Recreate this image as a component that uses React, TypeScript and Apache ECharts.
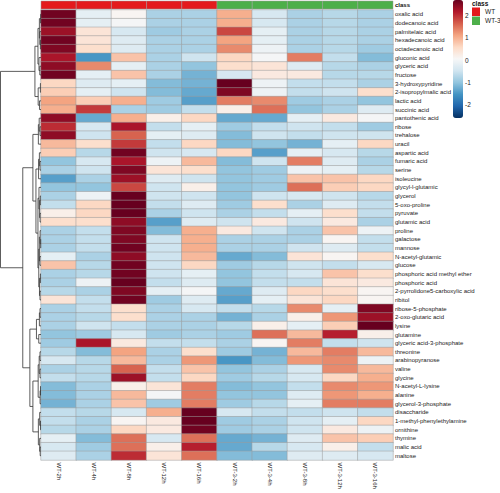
import React, { useEffect, useRef } from "react";
import * as echarts from "echarts";

const columns = ["WT-2h", "WT-4h", "WT-8h", "WT-12h", "WT-16h", "WT-3-2h", "WT-3-4h", "WT-3-8h", "WT-3-12h", "WT-3-16h"];
const columnClass = ["WT", "WT", "WT", "WT", "WT", "WT-3", "WT-3", "WT-3", "WT-3", "WT-3"];
const classNames = ["WT", "WT-3"];
const classColors = ["#E41A1C", "#4DAF4A"];

const rows = [
  "oxalic acid", "dodecanoic acid", "palmitelaic acid", "hexadecanoic acid", "octadecanoic acid",
  "gluconic acid", "glyceric acid", "fructose", "3-hydroxypyridine", "2-isopropylmalic acid",
  "lactic acid", "succinic acid", "pantothenic acid", "ribose", "trehalose", "uracil",
  "aspartic acid", "fumaric acid", "serine", "isoleucine", "glycyl-l-glutamic", "glycerol",
  "5-oxo-proline", "pyruvate", "glutamic acid", "proline", "galactose", "mannose",
  "N-acetyl-glutamic", "glucose", "phosphoric acid methyl ether", "phosphoric acid",
  "2-pyrrolidone5-carboxylic acid", "ribitol", "ribose-5-phosphate", "2-oxo-glutaric acid",
  "lysine", "glutamine", "glyceric acid-3-phosphate", "threonine", "arabinopyranose", "valine",
  "glycine", "N-acetyl-L-lysine", "alanine", "glycerol-3-phosphate", "disaccharide",
  "1-methyl-phenylethylamine", "ornithine", "thymine", "malic acid", "maltose",
];

const values: number[][] = [
  [2.6, -0.2, 0.1, -0.8, -0.8, 1.0, -0.4, -0.8, -0.7, -0.8],
  [2.6, -0.2, 0.0, -0.8, -0.8, 1.0, -0.4, -0.8, -0.7, -0.8],
  [2.3, 0.4, -0.4, -0.9, -0.8, 1.8, -0.2, -0.8, -0.7, -0.8],
  [2.6, 0.4, -0.3, -0.8, -0.8, 1.1, -0.2, -0.8, -0.7, -0.8],
  [2.5, 0.5, -0.3, -0.8, -0.8, 1.3, -0.1, -0.8, -0.7, -0.9],
  [2.2, -1.5, 0.8, -0.8, -0.5, 0.6, 0.0, 1.4, -0.6, -1.1],
  [2.4, 1.3, -0.2, -0.8, -1.0, 0.5, 0.4, -0.3, -0.7, -0.8],
  [2.6, -0.2, 0.8, -0.8, -1.2, -0.4, 0.3, 0.3, -0.7, -0.7],
  [0.6, -0.3, -0.2, -1.1, -1.2, 2.7, -0.1, -0.6, -0.6, -0.8],
  [0.7, -0.2, -0.5, -1.1, -1.3, 2.5, -0.1, -0.6, -0.5, 0.5],
  [1.1, 0.7, 1.0, -0.9, -1.4, 1.4, 1.3, -0.9, -0.8, -1.0],
  [1.0, 1.9, -0.8, -0.9, -0.6, 0.2, 1.5, -1.0, -0.8, -0.3],
  [2.4, -1.3, 1.0, 0.2, 0.6, -1.3, -1.3, -0.2, 0.3, 0.0],
  [2.0, -0.4, 2.2, -0.6, -0.2, -0.9, -0.6, -0.5, -0.6, -0.9],
  [2.4, -0.5, 1.6, -0.2, -0.3, -1.1, -0.5, -0.6, -0.5, -0.5],
  [0.9, 0.5, 1.9, -0.6, 0.6, -1.1, -1.0, -1.2, -0.2, 0.6],
  [0.7, -0.7, 2.6, -0.5, -0.4, 0.6, -1.4, -0.2, -0.4, -0.7],
  [-1.0, -0.4, 2.2, -0.1, 0.9, -1.1, -0.5, 1.4, -0.3, -0.8],
  [-0.8, -0.5, 2.5, 0.4, 0.5, -1.0, -0.9, -0.1, -0.2, -0.7],
  [-1.4, -0.8, 2.3, -0.3, -0.5, -1.0, -0.9, 0.8, 0.8, 0.6],
  [-1.0, -1.0, 1.8, -0.5, 0.2, -1.0, -0.9, 1.5, 0.7, 0.6],
  [-0.8, -0.1, 2.7, -0.5, -0.5, -1.0, -0.5, -0.4, -0.5, -0.7],
  [-0.6, 0.6, 2.7, -0.6, -0.3, -0.9, 0.5, -0.8, -0.3, -0.6],
  [0.2, 0.6, 2.7, -0.8, -0.5, -0.8, -0.6, -0.2, 0.5, -0.6],
  [0.5, 0.5, 2.4, -1.4, -0.3, -0.5, 0.3, -0.5, 0.3, -0.8],
  [-0.8, -0.6, 2.5, -1.1, 1.0, 0.3, -0.5, -0.8, 0.8, -0.1],
  [-0.8, -0.6, 2.5, -0.5, 1.0, -0.8, -0.8, -0.8, 0.1, -0.6],
  [-0.8, -0.6, 2.6, -0.5, 1.0, -0.8, -0.8, -0.5, -0.3, -0.6],
  [-0.2, -0.8, 2.4, -0.5, 0.9, -1.3, -1.1, 0.4, 0.1, 0.5],
  [0.8, -0.7, 2.6, -0.5, 0.6, -0.9, -0.7, -0.5, -0.6, -0.4],
  [-0.8, -0.7, 2.6, -0.5, -0.2, -1.0, -0.6, -0.4, 0.8, 0.5],
  [-0.8, -0.1, 2.7, -0.6, -0.3, -1.0, -0.6, -0.6, 0.4, 0.3],
  [-0.7, -0.8, 2.5, -0.2, 0.0, -1.3, -0.3, 0.6, 0.5, 0.1],
  [0.4, -0.6, 2.6, -0.9, -0.3, -1.4, -0.2, 0.4, 0.6, 0.1],
  [-0.8, -0.6, 0.5, -0.8, -0.4, -0.6, -0.7, 1.3, -0.2, 2.5],
  [-0.8, -0.7, 0.5, -0.8, -0.8, -1.2, -0.8, 0.2, 1.2, 2.3],
  [-0.8, -0.5, -0.6, -0.8, -0.8, -0.7, 0.2, -0.2, 0.7, 2.8],
  [-1.0, -0.9, -0.4, -0.9, -0.8, -0.9, 1.5, 0.9, 2.1, 0.2],
  [-0.9, 2.2, 0.3, -0.6, -0.6, -0.8, 0.1, 1.4, -0.6, -0.5],
  [-0.7, -1.1, 1.1, -0.8, 0.5, -0.9, -1.2, 0.9, 1.4, 0.9],
  [-0.4, -0.7, 0.9, -0.8, 1.2, -1.5, -1.1, 1.2, 1.3, -0.1],
  [-0.8, -0.7, 1.6, -0.6, 0.8, -1.0, -0.8, -0.4, 1.3, 0.9],
  [-0.6, -0.7, 2.3, -0.6, 0.6, -0.9, -0.7, -0.4, 0.6, 1.0],
  [-1.1, -0.8, 0.2, 0.4, 1.4, -1.1, -1.0, -0.6, 1.3, 1.2],
  [-1.1, -0.8, 0.9, 0.0, 1.4, -1.0, -1.0, -0.3, 1.2, 1.0],
  [-1.2, -0.8, 0.8, -0.9, 1.4, -0.9, -0.7, -0.2, 1.4, 1.4],
  [-0.6, -0.7, -0.4, 1.0, 2.8, -0.4, -0.6, -0.6, -0.5, -0.6],
  [-0.6, -0.8, 0.1, 0.3, 2.7, -0.9, -0.8, -0.5, -0.2, 0.6],
  [-0.7, -0.8, 0.6, 0.3, 2.6, -0.9, -0.8, -0.5, 0.3, -0.1],
  [-0.2, -1.1, 1.5, -0.4, 1.5, -1.3, -1.2, -0.3, 0.8, 0.7],
  [-0.4, -0.9, 1.5, 0.2, 2.1, -1.3, -0.7, -0.4, 0.2, -0.6],
  [-0.3, -0.8, 2.0, 0.4, 1.5, -1.1, -1.1, -0.3, -0.3, -0.4],
];

// Row dendrogram: [height, left, right]; leaves are row indices
type Node = number | [number, Node, Node];
const rowTree: Node = [40,
  [6,
    [3.0,
      [1.6, [0.4, 0, 1], [1.2, 2, [0.6, 3, 4]]],
      [2.0, 5, [1.2, 6, 7]]],
    [2.8, [0.6, 8, 9], [1.5, 10, 11]]],
  [18,
    [8,
      [2.6, [1.8, 12, [1.0, 13, 14]], 15],
      [5.0,
        [2.4, [1.6, 16, [1.0, 17, 18]], 19],
        [3.0,
          [2.0, 20, [1.4, [0.7, 21, 22], [0.9, 23, 24]]],
          [2.2,
            [1.6, [0.9, 25, [0.3, 26, 27]], [1.1, 28, 29]],
            [1.5, [0.6, 30, 31], [1.0, 32, 33]]]]]],
    [11,
      [4.5, [1.6, [1.0, 34, 35], 36], [2.2, 37, 38]],
      [8,
        [2.8, [1.8, [1.0, 39, 40], [1.0, 41, 42]], [0.9, [0.5, 43, 44], 45]],
        [2.6, [1.3, 46, [0.5, 47, 48]], [1.3, 49, [0.8, 50, 51]]]]]]];

const colorScale = ["#053061", "#2166AC", "#4393C3", "#92C5DE", "#D1E5F0", "#F7F7F7", "#FDDBC7", "#F4A582", "#D6604D", "#B2182B", "#67001F"];
const scaleMin = -2.58;
const scaleMax = 2.67;
const scaleTicks = [-2, -1, 0, 1, 2];

const HM_LEFT = 41;
const HM_TOP = 10;
const HM_W = 352;
const HM_H = 450;
const FONT = "Liberation Sans, Arial, sans-serif";

function buildSegments(node: Node, out: number[][]): { pos: number; h: number } {
  if (typeof node === "number") return { pos: node, h: 0 };
  const [h, l, r] = node;
  const a = buildSegments(l, out);
  const b = buildSegments(r, out);
  out.push([h, a.pos, b.pos, a.h, b.h]);
  return { pos: (a.pos + b.pos) / 2, h };
}

export default function App() {
  const ref = useRef<HTMLDivElement>(null);
  useEffect(() => {
    if (!ref.current) return;
    const chart = echarts.init(ref.current, undefined, { renderer: "svg" });
    const segs: number[][] = [];
    buildSegments(rowTree, segs);
    const heatData: number[][] = [];
    values.forEach((row, ri) => row.forEach((v, ci) => heatData.push([ci, ri, v])));

    const classSeries = classNames.map((cn, k) => ({
      type: "custom",
      name: cn,
      xAxisIndex: 1,
      yAxisIndex: 1,
      itemStyle: { color: classColors[k] },
      data: columnClass.map((c, i) => (c === cn ? [i, 0] : null)).filter((d) => d !== null),
      renderItem: (params: any, api: any) => {
        const p = api.coord([api.value(0), api.value(1)]);
        const s = api.size([1, 1]);
        return {
          type: "rect",
          shape: { x: p[0] - s[0] / 2, y: p[1] - s[1] / 2, width: s[0], height: s[1] },
          style: { fill: classColors[k], stroke: "#9a9a9a", lineWidth: 0.5 },
        };
      },
      silent: true,
    }));

    chart.setOption({
      animation: false,
      textStyle: { fontFamily: FONT },
      grid: [
        { left: HM_LEFT, top: HM_TOP, width: HM_W, height: HM_H },
        { left: HM_LEFT, top: 1, width: HM_W, height: 8 },
        { left: 0, top: HM_TOP, width: HM_LEFT, height: HM_H },
        { left: 453, top: 0, width: 10, height: 118 },
      ],
      xAxis: [
        {
          type: "category", gridIndex: 0, data: columns, position: "bottom",
          axisLine: { show: false }, axisTick: { show: false }, splitLine: { show: false },
          axisLabel: { rotate: -90, fontSize: 6, color: "#222", margin: 2.5, interval: 0, fontFamily: FONT },
        },
        { type: "category", gridIndex: 1, data: columns, show: false },
        { type: "value", gridIndex: 2, min: 0, max: 40.5, inverse: true, show: false },
        { type: "category", gridIndex: 3, data: ["c"], show: false },
      ],
      yAxis: [
        {
          type: "category", gridIndex: 0, data: rows, inverse: true, position: "right",
          axisLine: { show: false }, axisTick: { show: false }, splitLine: { show: false },
          axisLabel: { fontSize: 6, color: "#222", margin: 2, interval: 0, fontFamily: FONT },
        },
        {
          type: "category", gridIndex: 1, data: ["class"], position: "right",
          axisLine: { show: false }, axisTick: { show: false },
          axisLabel: { fontSize: 6, fontWeight: "bold", color: "#111", margin: 2, fontFamily: FONT },
        },
        { type: "value", gridIndex: 2, min: -0.5, max: rows.length - 0.5, inverse: true, show: false },
        {
          type: "value", gridIndex: 3, min: scaleMin, max: scaleMax, position: "right",
          axisLine: { show: false }, axisTick: { show: false }, splitLine: { show: false },
          axisLabel: { customValues: scaleTicks, fontSize: 6.5, color: "#222", margin: 2, fontFamily: FONT },
        },
      ],
      visualMap: {
        type: "continuous",
        min: scaleMin,
        max: scaleMax,
        seriesIndex: 0,
        calculable: false,
        left: 453,
        top: 0,
        itemWidth: 10,
        itemHeight: 118,
        padding: 0,
        text: ["", ""],
        inRange: { color: colorScale },
      },
      legend: {
        data: classNames,
        orient: "vertical",
        left: 472,
        top: 7.5,
        padding: 0,
        itemGap: 0.5,
        itemWidth: 8,
        itemHeight: 8.5,
        icon: "rect",
        selectedMode: false,
        textStyle: { fontSize: 6.5, color: "#222", fontFamily: FONT },
      },
      title: {
        text: "class",
        left: 472,
        top: 0,
        padding: 0,
        textStyle: { fontSize: 6.5, fontWeight: "bold", color: "#111", fontFamily: FONT },
      },
      series: [
        {
          type: "heatmap",
          xAxisIndex: 0,
          yAxisIndex: 0,
          data: heatData,
          itemStyle: { borderColor: "#9a9a9a", borderWidth: 0.5 },
          emphasis: { disabled: true },
          silent: true,
        },
        ...classSeries,
        {
          type: "custom",
          xAxisIndex: 2,
          yAxisIndex: 2,
          data: segs,
          silent: true,
          renderItem: (params: any, api: any) => {
            const h = api.value(0), y1 = api.value(1), y2 = api.value(2), h1 = api.value(3), h2 = api.value(4);
            const pts = [api.coord([h1, y1]), api.coord([h, y1]), api.coord([h, y2]), api.coord([h2, y2])];
            return { type: "polyline", shape: { points: pts }, style: { stroke: "#333", lineWidth: 0.8, fill: "none" } };
          },
        },
      ],
    });
    return () => chart.dispose();
  }, []);
  return <div ref={ref} style={{ position: "absolute", left: 0, top: 0, width: 500, height: 493 }} />;
}
